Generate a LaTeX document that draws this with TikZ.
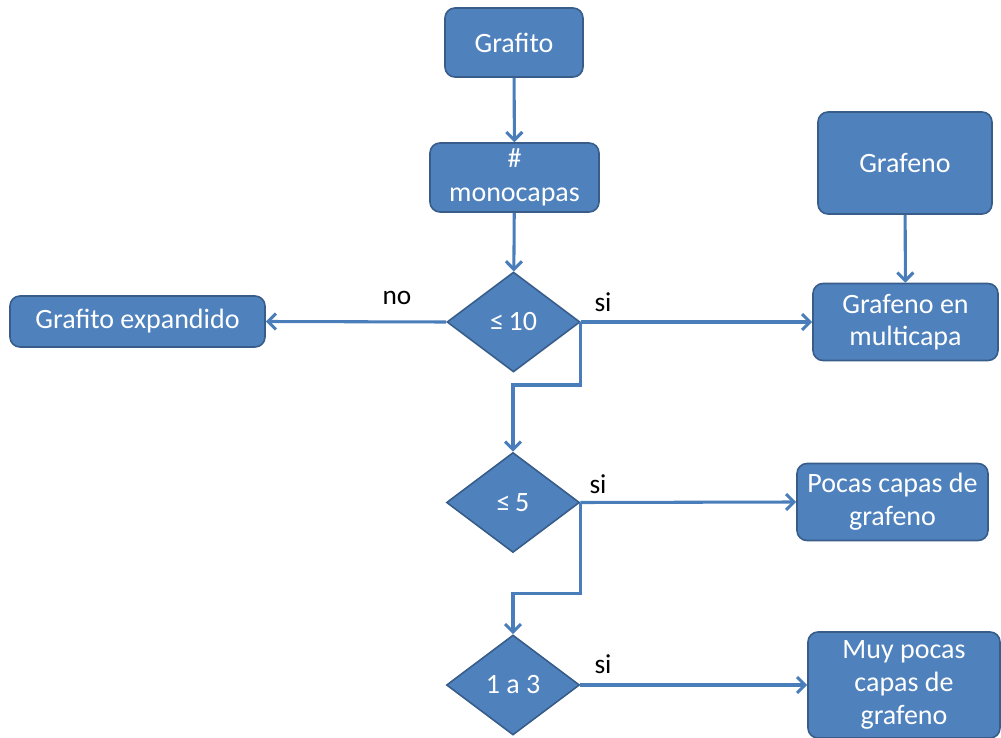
\documentclass[tikz,border=0pt]{standalone}
\usepackage{fontspec}
\setmainfont{Carlito}
\usetikzlibrary{shapes.geometric,arrows.meta}
\definecolor{boxfill}{HTML}{4F81BD}
\definecolor{boxline}{HTML}{385D8A}
\definecolor{arrowc}{HTML}{4A7EBB}
\tikzset{
  bx/.style 2 args={draw=boxline, line width=1.2pt, fill=boxfill, rounded corners=7.5pt,
    minimum width=#1*0.75pt, minimum height=#2*0.75pt, inner sep=0pt,
    text=white, align=center, font=\fontsize{21}{24.5}\selectfont},
  dia/.style={diamond, draw=boxline, line width=1.2pt, fill=boxfill,
    minimum width=99.75pt, minimum height=75pt, inner sep=0pt,
    text=white, font=\fontsize{21}{25}\selectfont},
  arr/.style={draw=arrowc, line width=2.3pt, -{Straight Barb[length=6pt,width=12pt,line width=2.3pt]}},
  lbl/.style={text=black, font=\fontsize{20.5}{25}\selectfont, inner sep=0pt}
}
\begin{document}
\begin{tikzpicture}[x=0.75pt,y=-0.75pt]
\useasboundingbox (0,0) rectangle (1001,738);
\node[bx={138}{69}] (g1) at (514,42.5) {Grafito};
\node[bx={169}{69}] (mono) at (514.5,177.5) {\#\\[1pt]monocapas};
\node[dia] (d1) at (513.5,322) {≤\,10};
\node[bx={255}{51}] (exp) at (137.5,321.5) {Grafito expandido};
\node[bx={174}{102}] (graf) at (905,163) {Grafeno};
\node[bx={185}{77}] (mult) at (905.5,322) {Grafeno en\\multicapa};
\node[dia] (d2) at (513,502.5) {≤\,5};
\node[bx={191}{77}] (pocas) at (892.5,502) {Pocas capas de\\grafeno};
\node[dia] (d3) at (513,685) {1 a 3};
\node[bx={192}{106}] (muy) at (904,685) {Muy pocas\\capas de\\grafeno};

\node[lbl] (lno) at (397,298) {no};
\node[lbl] (ls1) at (603,302) {si};
\node[lbl] (ls2) at (598,484) {si};
\node[lbl] (ls3) at (603,664) {si};

\draw[arr] (g1) -- (mono);
\draw[arr] (mono) -- (d1);
\draw[arr] (d1.west) -- (exp.east);
\draw[arr] (d1.east) -- (mult.west);
\draw[arr] (graf) -- (mult);
\draw[arr] (d1.east) -- ++(0,63) -| (d2.north);
\draw[arr] (d2.east) -- (pocas.west);
\draw[arr] (d2.east) -- ++(0,91) -| (d3.north);
\draw[arr] (d3.east) -- (d3.east -| muy.west);
\end{tikzpicture}
\end{document}
